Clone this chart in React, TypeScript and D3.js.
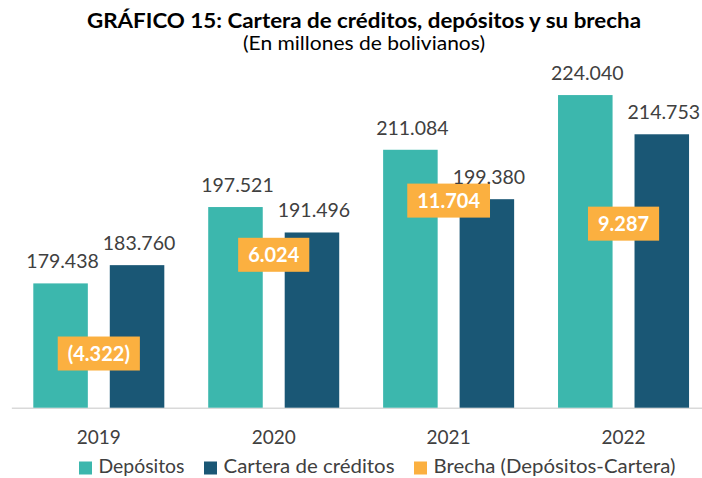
import * as d3 from 'd3';
import { useRef, useEffect } from 'react';

// DATA (millones de bolivianos)
const years = ['2019', '2020', '2021', '2022'];
const depositos = [179438, 197521, 211084, 224040];
const cartera = [183760, 191496, 199380, 214753];
const brecha = [-4322, 6024, 11704, 9287];
const seriesNames = ['Depósitos', 'Cartera de créditos', 'Brecha (Depósitos-Cartera)'];
const seriesColors = ['#3CB7AD', '#1A5775', '#FBB040'];

const title = 'GRÁFICO 15: Cartera de créditos, depósitos y su brecha';
const subtitle = '(En millones de bolivianos)';

function App() {
  const svgRef = useRef<SVGSVGElement>(null);
  const width = 702;
  const height = 478;
  // plot area (Excel style, first axis starts at 150.000)
  const plot = { left: 11.35, right: 711, top: 69.9, bottom: 407.7 };
  const font = 'Lato, "Open Sans", sans-serif';

  useEffect(() => {
    const svg = d3.select(svgRef.current);
    svg.selectAll('*').remove();

    const locale = d3.formatLocale({
      decimal: ',',
      thousands: '.',
      grouping: [3],
      currency: ['', ''],
    });
    const fmt = locale.format('(,.0f');

    // Scales
    const x0 = d3.scaleBand().domain(years).range([plot.left, plot.right]);
    const x1 = d3
      .scaleBand()
      .domain(['dep', 'cart'])
      .range([0, x0.bandwidth()])
      .padding(0.287);
    const y = d3
      .scaleLinear()
      .domain([150000, 230000])
      .range([plot.bottom, plot.top]);
    // secondary axis for the gap
    const y2 = d3
      .scaleLinear()
      .domain([-10000, 25400])
      .range([plot.bottom, plot.top]);

    // Title
    svg
      .append('text')
      .attr('x', 364)
      .attr('y', 27.5)
      .attr('text-anchor', 'middle')
      .attr('font-family', font)
      .attr('font-weight', 700)
      .attr('font-size', 21)
      .attr('textLength', 554)
      .attr('lengthAdjust', 'spacingAndGlyphs')
      .attr('fill', '#000')
      .text(title);
    svg
      .append('text')
      .attr('x', 364)
      .attr('y', 49.5)
      .attr('text-anchor', 'middle')
      .attr('font-family', font)
      .attr('font-size', 19.5)
      .attr('textLength', 242)
      .attr('lengthAdjust', 'spacingAndGlyphs')
      .attr('fill', '#000')
      .text(subtitle);

    // Axis
    const xAxis = d3.axisBottom(x0).tickSize(0).tickPadding(23);
    const gx = svg
      .append('g')
      .attr('transform', `translate(0, ${plot.bottom})`)
      .call(xAxis);
    gx.select('.domain').attr('stroke', '#D9D9D9').attr('stroke-width', 1.5);
    gx.selectAll('text')
      .attr('font-family', font)
      .attr('font-size', 19)
      .attr('fill', '#404040');

    // Bars
    const rows = years.map((yr, i) => ({
      year: yr,
      vals: [
        { key: 'dep', v: depositos[i], c: seriesColors[0] },
        { key: 'cart', v: cartera[i], c: seriesColors[1] },
      ],
    }));
    const groups = svg
      .append('g')
      .selectAll('g')
      .data(rows)
      .join('g')
      .attr('transform', (d) => `translate(${x0(d.year)}, 0)`);
    groups
      .selectAll('rect')
      .data((d) => d.vals)
      .join('rect')
      .attr('x', (d) => x1(d.key)!)
      .attr('width', x1.bandwidth())
      .attr('y', (d) => y(d.v))
      .attr('height', (d) => plot.bottom - y(d.v))
      .attr('fill', (d) => d.c);

    // Brecha labels
    const bg = svg
      .append('g')
      .selectAll('g')
      .data(brecha.map((v, i) => ({ v, year: years[i] })))
      .join('g')
      .attr(
        'transform',
        (d) => `translate(${x0(d.year)! + x0.bandwidth() / 2}, ${y2(d.v)})`,
      );
    const btext = bg
      .append('text')
      .attr('text-anchor', 'middle')
      .attr('dy', '0.36em')
      .attr('font-family', font)
      .attr('font-weight', 700)
      .attr('font-size', 20)
      .attr('fill', '#fff')
      .text((d) => fmt(d.v));
    btext.each(function () {
      const w = (this as SVGTextElement).getComputedTextLength() + 20;
      d3.select(this.parentNode as SVGGElement)
        .insert('rect', 'text')
        .attr('x', -w / 2)
        .attr('y', -17)
        .attr('width', w)
        .attr('height', 34)
        .attr('fill', seriesColors[2]);
    });

    // Bar value labels (on top)
    svg
      .append('g')
      .selectAll('g')
      .data(rows)
      .join('g')
      .attr('transform', (d) => `translate(${x0(d.year)}, 0)`)
      .selectAll('text')
      .data((d) => d.vals)
      .join('text')
      .attr('x', (d) => x1(d.key)! + x1.bandwidth() / 2 + 2)
      .attr('y', (d) => y(d.v) - 15)
      .attr('text-anchor', 'middle')
      .attr('font-family', font)
      .attr('font-size', 19.5)
      .attr('fill', '#404040')
      .text((d) => fmt(d.v));

    // Legend
    const legendWidths = [86, 171, 242];
    const legend = svg.append('g').attr('transform', 'translate(79, 473)');
    let lx = 0;
    seriesNames.forEach((name, i) => {
      legend
        .append('rect')
        .attr('x', lx)
        .attr('y', -11.5)
        .attr('width', 13)
        .attr('height', 13)
        .attr('fill', seriesColors[i]);
      legend
        .append('text')
        .attr('x', lx + 19.5)
        .attr('font-family', font)
        .attr('font-size', 19.5)
        .attr('textLength', legendWidths[i])
        .attr('lengthAdjust', 'spacingAndGlyphs')
        .attr('fill', '#404040')
        .text(name);
      lx += 19.5 + legendWidths[i] + 19.5;
    });
  }, []);

  return (
    <div style={{ position: 'absolute', left: 0, top: 0 }}>
      <svg
        ref={svgRef}
        width={width}
        height={height}
        style={{ display: 'block', background: '#fff' }}
      />
    </div>
  );
}

export default App;
